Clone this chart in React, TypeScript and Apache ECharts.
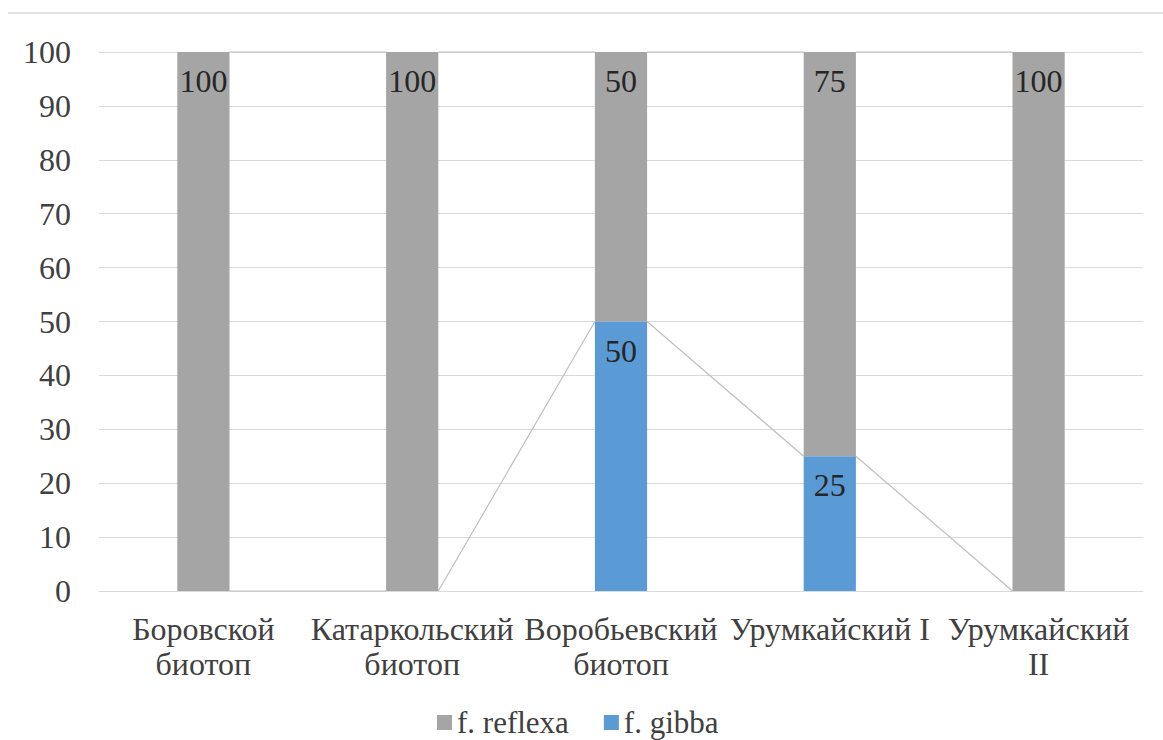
import React, { useEffect, useRef } from "react";
import * as echarts from "echarts";

const categories = [
  "Боровской\nбиотоп",
  "Катаркольский\nбиотоп",
  "Воробьевский\nбиотоп",
  "Урумкайский I",
  "Урумкайский\nII",
];
const gibba = [0, 0, 50, 25, 0];
const reflexa = [100, 100, 50, 75, 100];
const yTicks = { min: 0, max: 100, interval: 10 };

const FONT = "Times New Roman, Liberation Serif, serif";
const TEXT = "#404040";
const FS = 32;

export default function App() {
  const ref = useRef<HTMLDivElement>(null);
  useEffect(() => {
    if (!ref.current) return;
    const chart = echarts.init(ref.current, undefined, { renderer: "svg" });
    const lineData = categories.slice(0, -1).map((_, i) => [
      i,
      gibba[i],
      gibba[i + 1],
      gibba[i] + reflexa[i],
      gibba[i + 1] + reflexa[i + 1],
    ]);
    const labelCommon = {
      show: true,
      position: "insideTop",
      distance: 13,
      fontFamily: FONT,
      fontSize: FS,
      color: "#262626",
      formatter: (p: any) => (p.value ? String(p.value) : ""),
    };
    chart.setOption({
      animation: false,
      textStyle: { fontFamily: FONT },
      grid: { left: 99, right: 20, top: 52, bottom: 149 },
      legend: {
        left: 437,
        top: 707,
        padding: 0,
        itemWidth: 15,
        itemHeight: 15,
        itemGap: 35,
        icon: "rect",
        textStyle: { fontFamily: FONT, fontSize: 31, color: TEXT },
        data: ["f. reflexa", "f. gibba"],
      },
      xAxis: {
        type: "category",
        data: categories,
        axisLine: { lineStyle: { color: "#d9d9d9", width: 1 } },
        axisTick: { show: false },
        axisLabel: {
          fontFamily: FONT,
          fontSize: FS,
          lineHeight: 35,
          color: TEXT,
          margin: 20,
          interval: 0,
        },
      },
      yAxis: {
        type: "value",
        min: yTicks.min,
        max: yTicks.max,
        interval: yTicks.interval,
        axisLine: { show: false },
        axisTick: { show: false },
        splitLine: { lineStyle: { color: "#d9d9d9", width: 1 } },
        axisLabel: { fontFamily: FONT, fontSize: FS, color: TEXT, margin: 28 },
      },
      graphic: [
        {
          type: "line",
          shape: { x1: 8, y1: 13, x2: 1163, y2: 13 },
          style: { stroke: "#d9d9d9", lineWidth: 1.5 },
        },
      ],
      series: [
        {
          name: "f. gibba",
          type: "bar",
          stack: "s",
          barWidth: "25%",
          data: gibba,
          itemStyle: { color: "#5b9bd5" },
          label: labelCommon,
        },
        {
          name: "f. reflexa",
          type: "bar",
          stack: "s",
          barWidth: "25%",
          data: reflexa,
          itemStyle: { color: "#a5a5a5" },
          label: labelCommon,
        },
        {
          name: "seriesLines",
          type: "custom",
          silent: true,
          z: 1,
          encode: { x: 0, y: [1, 2, 3, 4] },
          data: lineData,
          renderItem: (params: any, api: any) => {
            const i = api.value(0);
            const band = api.size([1, 0])[0];
            const half = band * 0.125;
            const a1 = api.coord([i, api.value(1)]);
            const a2 = api.coord([i + 1, api.value(2)]);
            const b1 = api.coord([i, api.value(3)]);
            const b2 = api.coord([i + 1, api.value(4)]);
            const style = { stroke: "#bfbfbf", lineWidth: 1.2 };
            return {
              type: "group",
              children: [
                {
                  type: "line",
                  shape: { x1: a1[0] + half, y1: a1[1], x2: a2[0] - half, y2: a2[1] },
                  style,
                },
                {
                  type: "line",
                  shape: { x1: b1[0] + half, y1: b1[1], x2: b2[0] - half, y2: b2[1] },
                  style,
                },
              ],
            };
          },
        },
      ],
    });
    return () => chart.dispose();
  }, []);
  return (
    <div
      ref={ref}
      style={{ position: "fixed", left: 0, top: 0, width: 1163, height: 740, background: "#fff" }}
    />
  );
}
